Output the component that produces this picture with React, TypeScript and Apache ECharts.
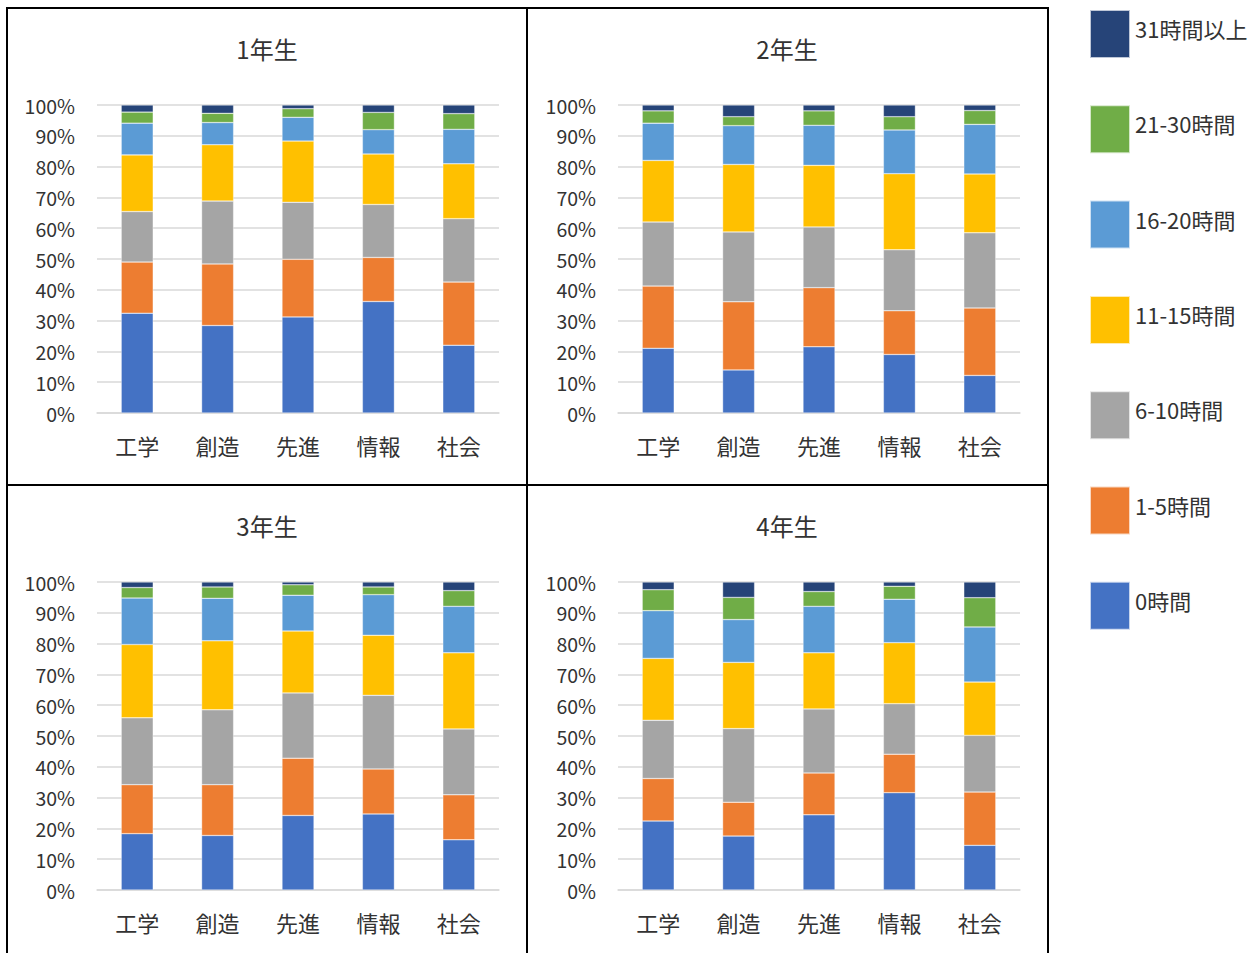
import React, { useEffect, useRef } from "react";
import * as echarts from "echarts";

const categories = ["工学", "創造", "先進", "情報", "社会"];
const years = ["1年生", "2年生", "3年生", "4年生"];
const seriesNames = ["0時間", "1-5時間", "6-10時間", "11-15時間", "16-20時間", "21-30時間", "31時間以上"];
const seriesColors = ["#4472C4", "#ED7D31", "#A5A5A5", "#FFC000", "#5B9BD5", "#70AD47", "#264478"];
const yTicks = [0, 10, 20, 30, 40, 50, 60, 70, 80, 90, 100];

// values in %, indexed [year][category]
const hours0 = [
  [32.4, 28.4, 31.2, 36.2, 22.0],
  [21.0, 14.0, 21.5, 19.0, 12.2],
  [18.3, 17.7, 24.2, 24.7, 16.3],
  [22.4, 17.5, 24.4, 31.6, 14.5],
];
const hours1to5 = [
  [16.6, 20.0, 18.7, 14.3, 20.5],
  [20.2, 22.1, 19.2, 14.2, 21.9],
  [15.9, 16.5, 18.6, 14.6, 14.6],
  [13.8, 11.0, 13.6, 12.5, 17.3],
];
const hours6to10 = [
  [16.4, 20.4, 18.5, 17.2, 20.6],
  [20.8, 22.7, 19.7, 19.8, 24.4],
  [21.7, 24.3, 21.2, 23.9, 21.4],
  [18.9, 23.9, 20.8, 16.4, 18.4],
];
const hours11to15 = [
  [18.4, 18.3, 19.9, 16.4, 17.8],
  [20.0, 21.9, 20.0, 24.7, 19.1],
  [23.8, 22.4, 20.1, 19.5, 24.7],
  [20.1, 21.5, 18.2, 19.8, 17.3],
];
const hours16to20 = [
  [10.3, 7.2, 7.7, 7.9, 11.2],
  [12.1, 12.6, 13.0, 14.2, 16.1],
  [15.1, 13.8, 11.6, 13.2, 15.1],
  [15.5, 13.9, 15.1, 14.1, 17.9],
];
const hours21to30 = [
  [3.6, 3.0, 2.8, 5.6, 5.1],
  [4.0, 2.9, 4.7, 4.3, 4.5],
  [3.4, 3.7, 3.4, 2.5, 5.1],
  [6.8, 7.2, 4.8, 4.2, 9.5],
];
const hours31plus = [
  [2.3, 2.7, 1.2, 2.4, 2.8],
  [1.9, 3.8, 1.9, 3.8, 1.8],
  [1.8, 1.6, 0.9, 1.6, 2.8],
  [2.5, 5.0, 3.1, 1.4, 5.1],
];

const allSeries = [hours0, hours1to5, hours6to10, hours11to15, hours16to20, hours21to30, hours31plus];

const FONT = "'Noto Sans CJK JP', 'Noto Sans', sans-serif";
const TEXT = "#333333";
const GRID = "#D9D9D9";

const gridPos = [
  { left: 97, top: 105 },
  { left: 618, top: 105 },
  { left: 97, top: 582 },
  { left: 618, top: 582 },
];
const titlePos = [
  { x: 267, y: 48 },
  { x: 787, y: 48 },
  { x: 267, y: 525 },
  { x: 787, y: 525 },
];

export default function App() {
  const ref = useRef<HTMLDivElement>(null);
  useEffect(() => {
    if (!ref.current) return;
    const chart = echarts.init(ref.current, null, { renderer: "svg" });

    const grids = gridPos.map((p) => ({ left: p.left, top: p.top, width: 402, height: 308, containLabel: false }));
    const xAxes = gridPos.map((_, i) => ({
      type: "category",
      gridIndex: i,
      data: categories,
      axisLine: { show: true, lineStyle: { color: GRID, width: 1.5 } },
      axisTick: { show: false },
      axisLabel: { color: TEXT, fontSize: 22, fontFamily: FONT, margin: 21 },
    }));
    const yAxes = gridPos.map((_, i) => ({
      type: "value",
      gridIndex: i,
      min: yTicks[0],
      max: yTicks[yTicks.length - 1],
      interval: 10,
      axisLine: { show: false },
      axisTick: { show: false },
      splitLine: { lineStyle: { color: GRID, width: 1.5 } },
      axisLabel: { color: TEXT, fontSize: 19.5, fontFamily: FONT, margin: 22, formatter: "{value}%" },
    }));

    const series: any[] = [];
    years.forEach((_, yi) => {
      allSeries.forEach((arr, si) => {
        series.push({
          name: seriesNames[si],
          type: "bar",
          stack: "y" + yi,
          xAxisIndex: yi,
          yAxisIndex: yi,
          barWidth: 32,
          data: arr[yi],
          itemStyle: { color: seriesColors[si], borderColor: "rgba(255,255,255,0.7)", borderWidth: 0.5 },
        });
      });
    });

    const titles = years.map((t, i) => ({
      text: t,
      left: titlePos[i].x,
      top: titlePos[i].y,
      textAlign: "center",
      textVerticalAlign: "middle",
      padding: 0,
      textStyle: { fontSize: 24, fontWeight: "normal", color: TEXT, fontFamily: FONT },
    }));

    const black = { stroke: "#000", lineWidth: 2 };

    chart.setOption({
      animation: false,
      backgroundColor: "#fff",
      title: titles,
      grid: grids,
      xAxis: xAxes,
      yAxis: yAxes,
      legend: {
        orient: "vertical",
        left: 1089,
        top: 9,
        padding: 0,
        icon: "rect",
        itemWidth: 40,
        itemHeight: 48,
        itemGap: 45.3,
        data: seriesNames.slice().reverse(),
        formatter: "{a|{name}}",
        textStyle: {
          fontSize: 22,
          color: TEXT,
          fontFamily: FONT,
          rich: { a: { fontSize: 22, color: TEXT, fontFamily: FONT, padding: [0, 0, 12, 0] } },
        },
        selectedMode: false,
      },
      series,
      graphic: [
        { type: "line", shape: { x1: 7, y1: 8, x2: 1048, y2: 8 }, style: black },
        { type: "line", shape: { x1: 7, y1: 7, x2: 7, y2: 960 }, style: black },
        { type: "line", shape: { x1: 1048, y1: 7, x2: 1048, y2: 960 }, style: black },
        { type: "line", shape: { x1: 527, y1: 7, x2: 527, y2: 960 }, style: black },
        { type: "line", shape: { x1: 7, y1: 485, x2: 1048, y2: 485 }, style: black },
      ],
    });
    return () => chart.dispose();
  }, []);
  return <div ref={ref} style={{ position: "fixed", left: 0, top: 0, width: 1255, height: 953 }} />;
}
